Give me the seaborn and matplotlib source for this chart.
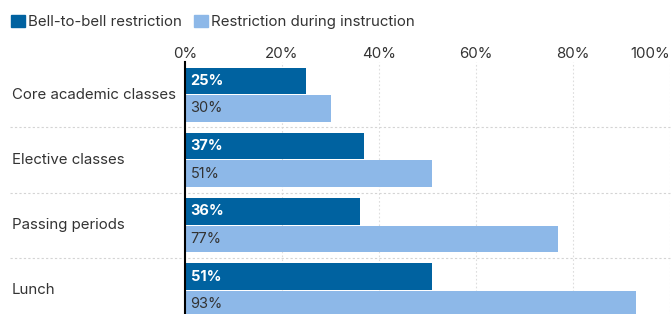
import pandas as pd
import matplotlib.pyplot as plt
import seaborn as sns
from matplotlib.patches import Patch

# -------------------------------
# Data
categories = ["Core academic classes", "Elective classes", "Passing periods", "Lunch"]
bell_to_bell = [25, 37, 36, 51]
during_instruction = [30, 51, 77, 93]
series_names = ["Bell-to-bell restriction", "Restriction during instruction"]
ticks = [0, 20, 40, 60, 80, 100]

dark_blue = "#0062a0"
light_blue = "#8db8e8"
text_gray = "#333333"
grid_gray = "#d4d4d4"

df = pd.DataFrame({
    "category": categories * 2,
    "value": bell_to_bell + during_instruction,
    "series": [series_names[0]] * 4 + [series_names[1]] * 4,
})

# -------------------------------
sns.set_style("white")
plt.rcParams["font.family"] = ["Inter", "DejaVu Sans"]

fig = plt.figure(figsize=(6.71, 3.14), dpi=100)
ax = fig.add_axes([185 / 671, 1 - 323 / 314, 485 / 671, 261 / 314])

sns.barplot(data=df, y="category", x="value", hue="series", orient="h",
            palette=[dark_blue, light_blue], width=0.84, gap=0.03,
            linewidth=0, saturation=1, ax=ax)
ax.get_legend().remove()

ax.set_xlim(0, 100)
ax.set_ylim(3.5, -0.5)
ax.set_xlabel("")
ax.set_ylabel("")

# top tick labels
ax.xaxis.tick_top()
ax.set_xticks(ticks)
ax.set_xticklabels([f"{t}%" for t in ticks], fontsize=10.8, color=text_gray)
ax.get_xticklabels()[-1].set_horizontalalignment("right")
ax.tick_params(axis="x", length=0, pad=0.5)
ax.set_yticks([])

# vertical dotted grid
for t in ticks[1:]:
    ax.axvline(t, color="#dddddd", lw=0.8, ls=(0, (1.5, 2)), zorder=0)

# horizontal separators reaching into the label area
for i in range(len(categories) - 1):
    ax.axhline(i + 0.5, xmin=-0.36, xmax=1, color=grid_gray, lw=0.8,
               ls=(0, (2, 2)), zorder=0, clip_on=False)

for s in ["top", "right", "bottom"]:
    ax.spines[s].set_visible(False)
ax.spines["left"].set_color("black")
ax.spines["left"].set_linewidth(1.5)

# category labels
for i, c in enumerate(categories):
    ax.text(-0.357, i, c, transform=ax.get_yaxis_transform(), ha="left",
            va="center", fontsize=10.8, color=text_gray)

# value labels inside bars
for k, cont in enumerate(ax.containers):
    for p in cont.patches:
        y = p.get_y() + p.get_height() / 2
        ax.annotate(f"{p.get_width():.0f}%", (0, y), xytext=(4, 0),
                    textcoords="offset points", ha="left", va="center",
                    fontsize=10.5,
                    color="white" if k == 0 else text_gray,
                    fontweight="bold" if k == 0 else "normal")

# legend
handles = [Patch(color=dark_blue), Patch(color=light_blue)]
fig.legend(handles, series_names, loc="upper left",
           bbox_to_anchor=(11 / 671, 1 - 15 / 314), borderpad=0, borderaxespad=0,
           ncol=2, frameon=False, fontsize=10.8, handlelength=0.9, handleheight=0.9,
           handletextpad=0.25, columnspacing=0.8, labelcolor=text_gray)

plt.savefig("out.png", dpi=100)
